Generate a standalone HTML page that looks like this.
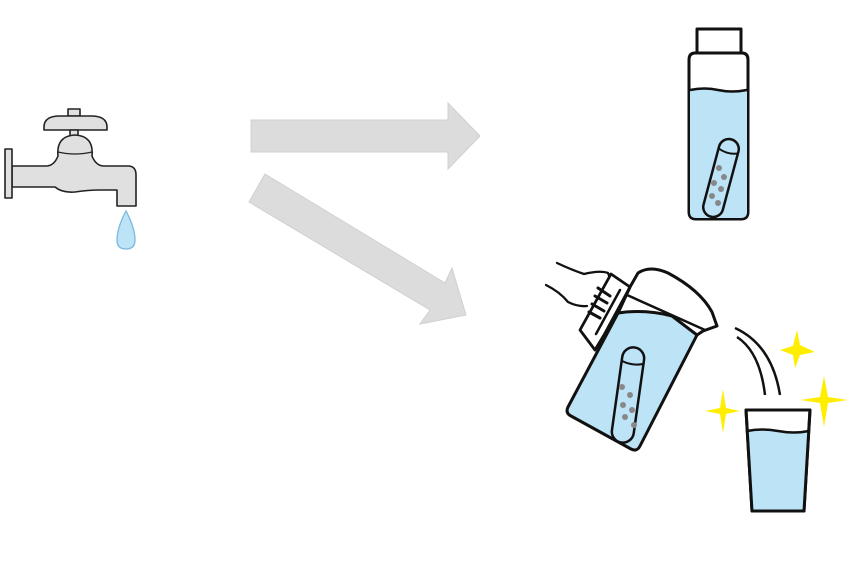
<!DOCTYPE html>
<html><head><meta charset="utf-8"><style>html,body{margin:0;padding:0;background:#fff}svg{display:block}</style></head>
<body>
<svg width="850" height="566" viewBox="0 0 850 566" xmlns="http://www.w3.org/2000/svg">
<!-- arrows -->
<polygon points="251,120 448,120 448,103 480,136 448,169 448,152 251,152" fill="#dcdcdc" stroke="#d0d0d0" stroke-width="1"/>
<polygon points="265,174 445,283 452,268 466,315 420,324 430,310 249,202" fill="#dcdcdc" stroke="#d0d0d0" stroke-width="1"/>

<!-- faucet -->
<g stroke="#222" stroke-width="1.6" fill="#e0e0e0" stroke-linejoin="round">
<rect x="68" y="109" width="12" height="7"/>
<path d="M44,127 Q44,116 60,116 L91,116 Q107,116 107,127 L107,130 L44,130 Z"/>
<rect x="70" y="130" width="8" height="6"/>
<path d="M12,166 L46,166 Q54,166 58,156 Q56,136 75,135 Q94,136 92,156 Q96,166 104,166 L128,166 Q136,166 136,175 L136,206 L117,206 L117,190 L100,190 Q88,190 75,192 Q62,193 55,187 L12,187 Z"/>
<path d="M58,152 Q75,156 92,152" fill="none" stroke-width="1.2"/>
<rect x="5" y="149" width="7" height="49"/>
</g>
<path d="M126,211 Q117,228 117,240 Q117,249 126,249 Q135,249 135,240 Q135,228 126,211 Z" fill="#bde3f7" stroke="#7ab9dc" stroke-width="1.3"/>

<!-- bottle -->
<g stroke="#111" stroke-width="3" stroke-linejoin="round">
<rect x="697" y="29" width="44" height="24" fill="#fff"/>
<path d="M695,53 L742,53 Q748,53 748,60 L748,212 Q748,219 741,219 L696,219 Q689,219 689,212 L689,60 Q689,53 695,53 Z" fill="#fff"/>
<path d="M690,90 Q705,87 718,90 Q732,93 747,90 L747,212 Q747,218 741,218 L696,218 Q690,218 690,212 Z" fill="#bde3f7" stroke="none"/>
<path d="M690,90 Q705,87 718,90 Q732,93 747,90" fill="none" stroke-width="2.5"/>
<g transform="translate(721,178) rotate(15)">
<rect x="-10" y="-40" width="20" height="80" rx="10" fill="#bde3f7" stroke-width="2.5"/>
<path d="M-10,-28 Q0,-24 10,-28" fill="none" stroke-width="2"/>
</g>
</g>
<g fill="#888"><circle cx="719" cy="168" r="3"/><circle cx="724" cy="177" r="3"/><circle cx="714" cy="183" r="3"/><circle cx="721" cy="189" r="3"/><circle cx="712" cy="196" r="3"/><circle cx="718" cy="203" r="3"/></g>

<!-- pitcher -->
<g stroke="#111" stroke-width="3" stroke-linejoin="round" stroke-linecap="round" fill="none">
<!-- hand -->
<path d="M557,263 Q572,270 584,274 Q600,270 608,273 Q612,280 604,288" stroke-width="2.3"/>
<path d="M546,285 Q560,292 568,302 Q578,307 587,306" stroke-width="2.3"/>
<!-- handle -->
<path d="M611,274 L630,287 L604,335 L595,350 L580,330 Z" fill="#fff" stroke-width="2.8"/>
<path d="M620,290 L596,334" stroke-width="2.5"/>
<path d="M598,288 L610,296 M595,296 L607,303 M592,304 L604,311 M589,312 L600,318" stroke-width="3"/>
<!-- lid -->
<path d="M630,287 L638,273 Q650,265 668,273 Q700,290 712,312 L717,326 L703,331 L697,335 L618,313 Z" fill="#fff"/>
<!-- body water -->
<path d="M618,313 Q645,309 672,316 L697,335 L640,446 Q637,452 631,449 L571,416 Q565,413 568,407 Z" fill="#bde3f7"/>
<path d="M630,287 L618,313" />
<path d="M627,295 L705,330" stroke-width="2.5"/>
<g transform="translate(628,395) rotate(8)">
<rect x="-11" y="-48" width="22" height="96" rx="11" fill="#bde3f7" stroke-width="2.5"/>
<path d="M-11,-33 Q0,-29 11,-33" stroke-width="2"/>
</g>
</g>
<g fill="#888"><circle cx="622" cy="387" r="3"/><circle cx="630" cy="395" r="3"/><circle cx="623" cy="405" r="3"/><circle cx="632" cy="410" r="3"/><circle cx="625" cy="417" r="3"/><circle cx="634" cy="425" r="3"/></g>

<!-- pour lines -->
<path d="M735,328 Q772,345 780,395" fill="none" stroke="#111" stroke-width="2.5"/>
<path d="M737,337 Q760,352 765,395" fill="none" stroke="#111" stroke-width="2.5"/>

<!-- glass -->
<path d="M746,410 L810,410 L804,511 L752,511 Z" fill="#fff" stroke="#111" stroke-width="3" stroke-linejoin="round"/>
<path d="M747,431 Q762,428 778,431 Q794,434 809,431 L804,510 L752,510 Z" fill="#bde3f7"/>
<path d="M747,431 Q762,428 778,431 Q794,434 809,431" fill="none" stroke="#111" stroke-width="2.5"/>
<path d="M746,410 L810,410 L804,511 L752,511 Z" fill="none" stroke="#111" stroke-width="3" stroke-linejoin="round"/>

<!-- sparkles -->
<g fill="#ffee00">
<path d="M797,330 L800,345 L815,352 L800,355 L795,368 L793,355 L780,350 L793,346 Z"/>
<path d="M824,376 L828,397 L848,400 L828,403 L824,427 L820,403 L800,400 L820,397 Z"/>
<path d="M723,389 L726,408 L740,411 L726,414 L723,433 L720,414 L705,411 L720,408 Z"/>
</g>
</svg>
</body></html>
